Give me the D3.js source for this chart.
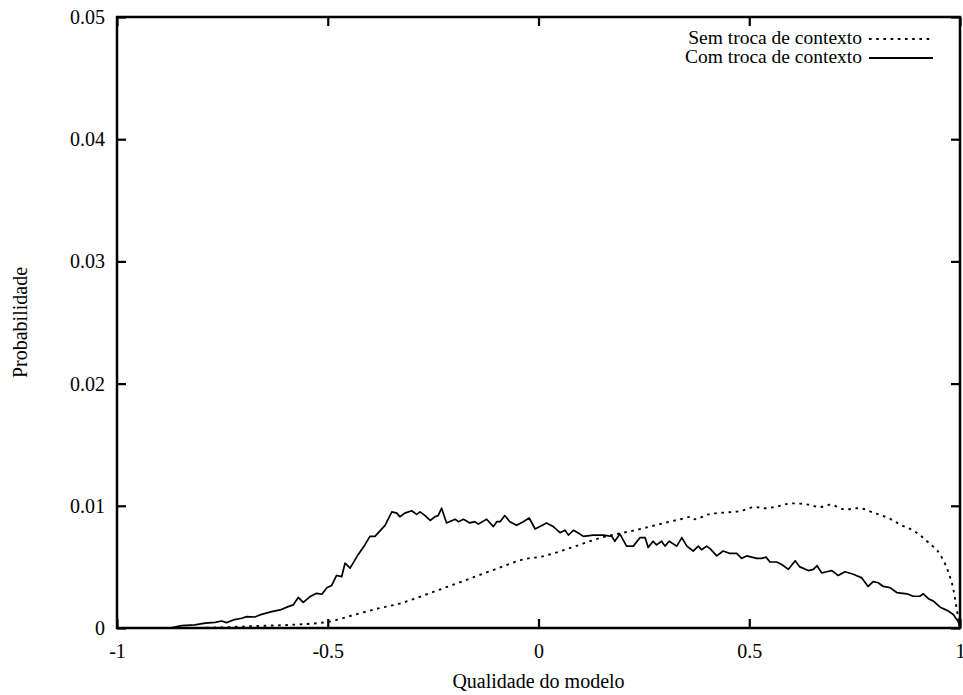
<!DOCTYPE html>
<html>
<head>
<meta charset="utf-8">
<script src="https://cdn.jsdelivr.net/npm/d3@7"></script>
<style>
  html, body { margin: 0; padding: 0; background: #fff; }
  svg { display: block; }
  svg text { font-family: "Liberation Serif", "Times New Roman", Times, serif; fill: #000; }
</style>
</head>
<body>
<svg id="chart" width="963" height="695"></svg>
<script>
// Axis ticks
const xTicks = [-1, -0.5, 0, 0.5, 1];
const xTickLabels = ["-1", "-0.5", "0", "0.5", "1"];
const yTicks = [0, 0.01, 0.02, 0.03, 0.04, 0.05];
const yTickLabels = ["0", "0.01", "0.02", "0.03", "0.04", "0.05"];

// Series names
const seriesNames = ["Sem troca de contexto", "Com troca de contexto"];

// "Sem troca de contexto" (dotted)
const semX = [-0.874, -0.85, -0.75, -0.673, -0.594, -0.5, -0.435, -0.38, -0.329, -0.262, -0.182,
  -0.103, -0.024, 0.0, 0.071, 0.15, 0.229, 0.336, 0.363, 0.371, 0.403, 0.482, 0.514, 0.537,
  0.561, 0.601, 0.64, 0.668, 0.692, 0.727, 0.759, 0.798, 0.83, 0.862, 0.893, 0.925, 0.953,
  0.972, 0.984, 0.992, 1.0];
const semY = [0.0, 0.0, 0.00005, 0.00016, 0.00025, 0.0005, 0.0011, 0.0016, 0.002, 0.0028, 0.0038,
  0.0048, 0.0057, 0.0058, 0.0065, 0.0074, 0.008, 0.0089, 0.0091, 0.0089, 0.0093, 0.0096, 0.0099, 0.0098,
  0.0099, 0.0102, 0.0101, 0.0099, 0.0101, 0.0097, 0.0098, 0.0094, 0.009, 0.0084, 0.0079, 0.007, 0.006,
  0.0046, 0.0032, 0.0016, 0.0];

// "Com troca de contexto" (solid)
const comX = [-0.874, -0.847, -0.815, -0.791, -0.767, -0.752, -0.74, -0.724, -0.704, -0.692, -0.673,
  -0.661, -0.633, -0.613, -0.594, -0.582, -0.57, -0.558, -0.542, -0.526, -0.514, -0.502, -0.491,
  -0.479, -0.467, -0.459, -0.447, -0.428, -0.412, -0.4, -0.388, -0.364, -0.348, -0.336, -0.329,
  -0.317, -0.301, -0.289, -0.281, -0.269, -0.257, -0.246, -0.238, -0.23, -0.218, -0.198, -0.19,
  -0.178, -0.163, -0.151, -0.143, -0.123, -0.107, -0.099, -0.091, -0.08, -0.068, -0.052, -0.036,
  -0.022, -0.008, 0.019, 0.035, 0.051, 0.063, 0.071, 0.083, 0.098, 0.106, 0.13, 0.154, 0.174,
  0.181, 0.193, 0.209, 0.225, 0.241, 0.253, 0.26, 0.272, 0.28, 0.292, 0.3, 0.31, 0.328, 0.34,
  0.352, 0.367, 0.379, 0.387, 0.399, 0.407, 0.423, 0.438, 0.454, 0.47, 0.482, 0.494, 0.518,
  0.53, 0.54, 0.549, 0.565, 0.577, 0.593, 0.609, 0.62, 0.64, 0.652, 0.661, 0.672, 0.684, 0.696,
  0.711, 0.727, 0.747, 0.767, 0.782, 0.794, 0.806, 0.818, 0.834, 0.85, 0.874, 0.889, 0.905,
  0.913, 0.925, 0.937, 0.953, 0.972, 0.984, 0.996, 1.0];
const comY = [0.0, 0.0002, 0.00025, 0.0004, 0.00046, 0.00057, 0.00044, 0.00066, 0.0008, 0.00093, 0.0009,
  0.00107, 0.00134, 0.00148, 0.00175, 0.00189, 0.0025, 0.0021, 0.00257, 0.00284, 0.00276, 0.0033, 0.00347,
  0.0043, 0.0042, 0.0053, 0.0049, 0.006, 0.0068, 0.0075, 0.0075, 0.0084, 0.0095, 0.0094, 0.0091,
  0.0094, 0.0096, 0.0093, 0.0095, 0.0092, 0.0088, 0.0091, 0.0092, 0.0098, 0.0086, 0.0089, 0.0087,
  0.0089, 0.0086, 0.0087, 0.0085, 0.0089, 0.0083, 0.0087, 0.0087, 0.0092, 0.0087, 0.0084, 0.0087,
  0.009, 0.0081, 0.0086, 0.0083, 0.0078, 0.008, 0.0076, 0.008, 0.0077, 0.0075, 0.0076, 0.0076, 0.0075,
  0.0071, 0.0077, 0.0067, 0.0067, 0.0074, 0.0074, 0.0066, 0.0071, 0.0068, 0.0071, 0.0067, 0.0071, 0.0067, 0.0074,
  0.0067, 0.0063, 0.0067, 0.0064, 0.0067, 0.0065, 0.0059, 0.0063, 0.0061, 0.0061, 0.0057, 0.0059, 0.0057,
  0.0057, 0.0058, 0.0054, 0.0054, 0.0052, 0.0048, 0.0055, 0.005, 0.0047, 0.0048, 0.0051, 0.0045, 0.0046, 0.0047,
  0.0043, 0.0046, 0.0044, 0.0041, 0.0034, 0.0038, 0.0037, 0.0034, 0.0033, 0.0029, 0.0028, 0.0026, 0.0026,
  0.0028, 0.0024, 0.0022, 0.0017, 0.0014, 0.0011, 0.0005, 0.0];

const xTitle = "Qualidade do modelo";
const yTitle = "Probabilidade";

const FONT = "'Liberation Serif', 'Times New Roman', Times, serif";
const DOTS = "2.6,4.6";

const svg = d3.select("#chart");
const plotLeft = 117, plotRight = 960, plotTop = 17, plotBottom = 628;

const x = d3.scaleLinear().domain([-1, 1]).range([plotLeft, plotRight]);
const y = d3.scaleLinear().domain([0, 0.05]).range([plotBottom, plotTop]);

const sem = semX.map((v, i) => [v, semY[i]]);
const com = comX.map((v, i) => [v, comY[i]]);

const clipId = "plotClip";
svg.append("clipPath").attr("id", clipId)
  .append("rect").attr("x", plotLeft).attr("y", plotTop)
  .attr("width", plotRight - plotLeft).attr("height", plotBottom - plotTop);

const line = d3.line().x(d => x(d[0])).y(d => y(d[1]));
const smoothLine = d3.line().x(d => x(d[0])).y(d => y(d[1])).curve(d3.curveMonotoneX);

const plot = svg.append("g").attr("clip-path", `url(#${clipId})`);
plot.append("path").datum(sem)
  .attr("d", smoothLine)
  .attr("fill", "none").attr("stroke", "#000").attr("stroke-width", 1.9)
  .attr("stroke-dasharray", DOTS);
plot.append("path").datum(com)
  .attr("d", line)
  .attr("fill", "none").attr("stroke", "#000").attr("stroke-width", 1.7)
  .attr("stroke-linejoin", "round");

// Axes with inward ticks on all four sides
const tickLen = 9;
const axB = d3.axisBottom(x).tickValues(xTicks).tickSize(-tickLen).tickFormat((d, i) => xTickLabels[i]).tickPadding(16);
const axT = d3.axisTop(x).tickValues(xTicks).tickSize(-tickLen).tickFormat("");
const axL = d3.axisLeft(y).tickValues(yTicks).tickSize(-tickLen).tickFormat((d, i) => yTickLabels[i]).tickPadding(12);
const axR = d3.axisRight(y).tickValues(yTicks).tickSize(-tickLen).tickFormat("");

function styleAxis(g) {
  g.attr("font-family", null).attr("font-size", null);
  g.select(".domain").remove();
  g.selectAll(".tick line").attr("stroke", "#000").attr("stroke-width", 2.2);
  g.selectAll(".tick text").style("font-family", FONT).style("font-size", "20px").attr("fill", "#000");
}
svg.append("g").attr("transform", `translate(0,${plotBottom})`).call(axB).call(styleAxis);
svg.append("g").attr("transform", `translate(0,${plotTop})`).call(axT).call(styleAxis);
svg.append("g").attr("transform", `translate(${plotLeft},0)`).call(axL).call(styleAxis);
svg.append("g").attr("transform", `translate(${plotRight},0)`).call(axR).call(styleAxis);

// Frame
svg.append("rect").attr("x", plotLeft).attr("y", plotTop)
  .attr("width", plotRight - plotLeft).attr("height", plotBottom - plotTop)
  .attr("fill", "none").attr("stroke", "#000").attr("stroke-width", 2.5);

// Titles
svg.append("text").attr("x", (plotLeft + plotRight) / 2).attr("y", 688)
  .attr("text-anchor", "middle").style("font-family", FONT).style("font-size", "20px").text(xTitle);
svg.append("text").attr("transform", `translate(27,${(plotTop + plotBottom) / 2}) rotate(-90)`)
  .attr("text-anchor", "middle").style("font-family", FONT).style("font-size", "20px").text(yTitle);

// Legend
const legend = svg.append("g");
const legendRows = [{ name: seriesNames[0], dash: DOTS, base: 44 }, { name: seriesNames[1], dash: null, base: 63 }];
legendRows.forEach(r => {
  legend.append("text").attr("x", 862).attr("y", r.base).attr("text-anchor", "end")
    .style("font-family", FONT).style("font-size", "19.5px").text(r.name);
  const l = legend.append("line").attr("x1", 869).attr("x2", 933)
    .attr("y1", r.base - 5).attr("y2", r.base - 5)
    .attr("stroke", "#000").attr("stroke-width", 1.8);
  if (r.dash) l.attr("stroke-dasharray", r.dash);
});
</script>
</body>
</html>
